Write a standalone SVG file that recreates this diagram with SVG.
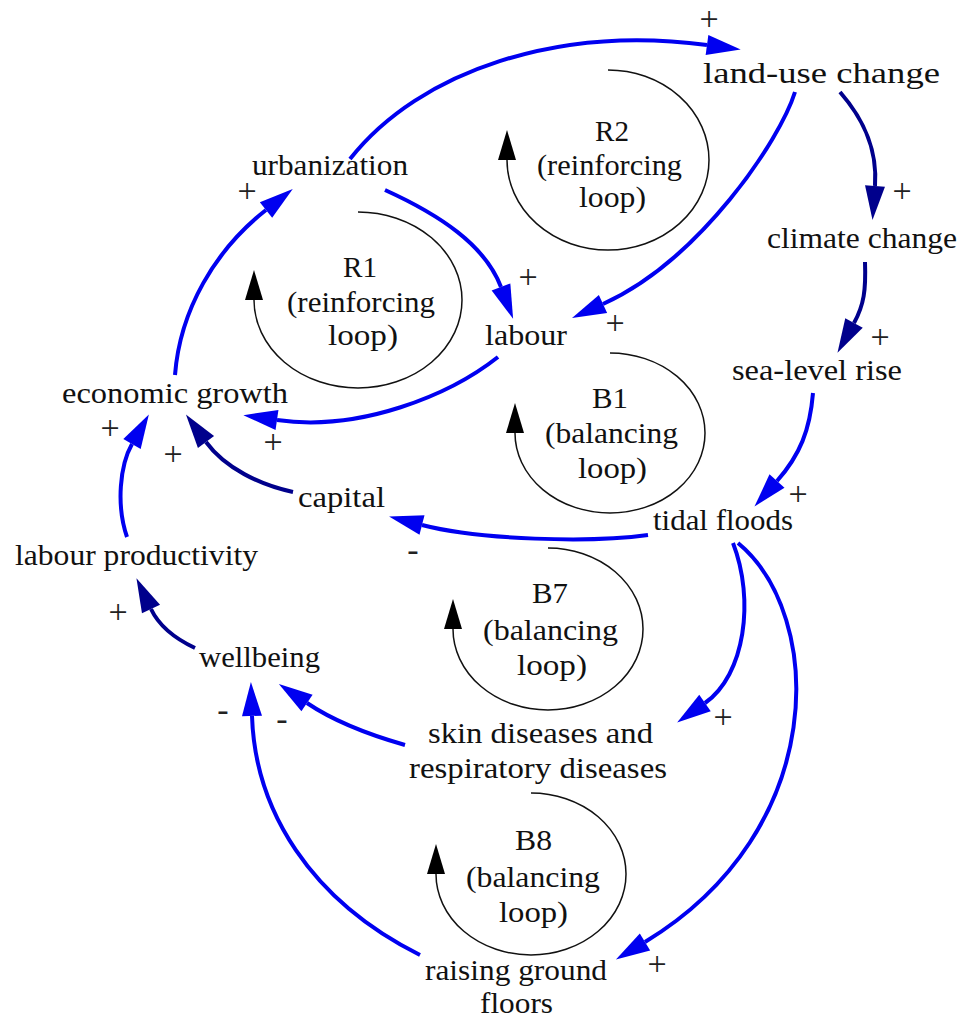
<svg xmlns="http://www.w3.org/2000/svg" width="963" height="1019" viewBox="0 0 963 1019" font-family="Liberation Serif, Times New Roman, serif">
  <style>
    .pos { fill: none; stroke: #0000f0; stroke-width: 4; }
    .navy { fill: none; stroke: #00008c; stroke-width: 4; }
    .ring { fill: none; stroke: #111; stroke-width: 1.5; }
  </style>
  <defs>
    <marker id="head-blue" markerUnits="userSpaceOnUse" orient="auto" refX="0" refY="0" markerWidth="40" markerHeight="30" overflow="visible">
      <path d="M0,-10 L34,0 L0,10 z" fill="#0000f0"/>
    </marker>
    <marker id="head-navy" markerUnits="userSpaceOnUse" orient="auto" refX="0" refY="0" markerWidth="40" markerHeight="30" overflow="visible">
      <path d="M0,-10 L34,0 L0,10 z" fill="#00008c"/>
    </marker>
    <marker id="head-ring" markerUnits="userSpaceOnUse" orient="auto" refX="0" refY="0" markerWidth="40" markerHeight="30" overflow="visible">
      <path d="M0,-9 L30,0 L0,9 z" fill="#000"/>
    </marker>
  </defs>
  <rect width="963" height="1019" fill="#fff"/>

  <!-- causal links -->
  <g id="connectors">
    <path class="pos" d="M350,159 C420,70 560,25 707,45" marker-end="url(#head-blue)"/>
    <path class="pos" d="M385,190 C440,215 485,245 501,287" marker-end="url(#head-blue)"/>
    <path class="pos" d="M795,92 C780,140 700,260 603,304" marker-end="url(#head-blue)"/>
    <path class="navy" d="M840,92 C860,115 878,145 875,186" marker-end="url(#head-navy)"/>
    <path class="navy" d="M865,262 C866,290 864,305 854,323" marker-end="url(#head-navy)"/>
    <path class="pos" d="M813,393 C810,430 800,455 777,481" marker-end="url(#head-blue)"/>
    <path class="pos" d="M648,535 C590,543 480,540 422,525" marker-end="url(#head-blue)"/>
    <path class="navy" d="M293,492 C260,485 225,468 206,442" marker-end="url(#head-navy)"/>
    <path class="pos" d="M127,537 C116,505 120,465 132,444" marker-end="url(#head-blue)"/>
    <path class="pos" d="M498,357 C450,395 360,432 277,420" marker-end="url(#head-blue)"/>
    <path class="pos" d="M175,375 C180,310 215,250 266,210" marker-end="url(#head-blue)"/>
    <path class="navy" d="M195,648 C178,640 160,628 151,609" marker-end="url(#head-navy)"/>
    <path class="pos" d="M405,745 C370,735 335,722 307,703" marker-end="url(#head-blue)"/>
    <path class="pos" d="M420,955 C310,900 255,810 252,716" marker-end="url(#head-blue)"/>
    <path class="pos" d="M733,543 C755,600 745,675 705,703" marker-end="url(#head-blue)"/>
    <path class="pos" d="M738,543 C825,615 830,830 645,942" marker-end="url(#head-blue)"/>
  </g>

  <!-- link polarities -->
  <g id="polarities" font-size="34" fill="#222" text-anchor="middle">
    <text x="709" y="30">+</text>
    <text x="528" y="288">+</text>
    <text x="615" y="334">+</text>
    <text x="902" y="202">+</text>
    <text x="880" y="348">+</text>
    <text x="798" y="505">+</text>
    <text x="413" y="561">-</text>
    <text x="173" y="465">+</text>
    <text x="110" y="439">+</text>
    <text x="273" y="453">+</text>
    <text x="247" y="202">+</text>
    <text x="118" y="623">+</text>
    <text x="282" y="730">-</text>
    <text x="223" y="721">-</text>
    <text x="723" y="728">+</text>
    <text x="657" y="975">+</text>
  </g>

  <!-- variables -->
  <g id="variables" font-size="30" fill="#111" lengthAdjust="spacingAndGlyphs">
    <g id="land-use-change"><text x="703" y="83" textLength="237" lengthAdjust="spacingAndGlyphs">land-use change</text></g>
    <g id="urbanization"><text x="252" y="175" textLength="156" lengthAdjust="spacingAndGlyphs">urbanization</text></g>
    <g id="climate-change"><text x="767" y="248" textLength="190" lengthAdjust="spacingAndGlyphs">climate change</text></g>
    <g id="labour"><text x="485" y="345" textLength="82" lengthAdjust="spacingAndGlyphs">labour</text></g>
    <g id="sea-level-rise"><text x="732" y="380" textLength="170" lengthAdjust="spacingAndGlyphs">sea-level rise</text></g>
    <g id="economic-growth"><text x="62" y="403" textLength="226" lengthAdjust="spacingAndGlyphs">economic growth</text></g>
    <g id="tidal-floods"><text x="653" y="530" textLength="140" lengthAdjust="spacingAndGlyphs">tidal floods</text></g>
    <g id="capital"><text x="298" y="507" textLength="87" lengthAdjust="spacingAndGlyphs">capital</text></g>
    <g id="labour-productivity"><text x="15" y="565" textLength="243" lengthAdjust="spacingAndGlyphs">labour productivity</text></g>
    <g id="wellbeing"><text x="199" y="667" textLength="121" lengthAdjust="spacingAndGlyphs">wellbeing</text></g>
    <g id="diseases">
      <text x="428" y="743" textLength="225" lengthAdjust="spacingAndGlyphs">skin diseases and</text>
      <text x="409" y="778" textLength="258" lengthAdjust="spacingAndGlyphs">respiratory diseases</text>
    </g>
    <g id="raising-ground-floors">
      <text x="425" y="980" textLength="182" lengthAdjust="spacingAndGlyphs">raising ground</text>
      <text x="480" y="1013" textLength="73" lengthAdjust="spacingAndGlyphs">floors</text>
    </g>
  </g>

  <!-- feedback loop markers -->
  <g id="loops" font-size="30" fill="#111">
    <g id="loop-R1">
      <path class="ring" d="M358,212 A104,88 0 1,1 254,300" marker-end="url(#head-ring)"/>
      <text x="343" y="277" textLength="34" lengthAdjust="spacingAndGlyphs">R1</text>
      <text x="287" y="312" textLength="148" lengthAdjust="spacingAndGlyphs">(reinforcing</text>
      <text x="328" y="345" textLength="70" lengthAdjust="spacingAndGlyphs">loop)</text>
    </g>
    <g id="loop-R2">
      <path class="ring" d="M608,70 A101,90 0 1,1 507,160" marker-end="url(#head-ring)"/>
      <text x="595" y="141" textLength="34" lengthAdjust="spacingAndGlyphs">R2</text>
      <text x="537" y="175" textLength="145" lengthAdjust="spacingAndGlyphs">(reinforcing</text>
      <text x="579" y="207" textLength="67" lengthAdjust="spacingAndGlyphs">loop)</text>
    </g>
    <g id="loop-B1">
      <path class="ring" d="M610,353 A95,80 0 1,1 515,433" marker-end="url(#head-ring)"/>
      <text x="592" y="408" textLength="36" lengthAdjust="spacingAndGlyphs">B1</text>
      <text x="545" y="443" textLength="133" lengthAdjust="spacingAndGlyphs">(balancing</text>
      <text x="578" y="478" textLength="69" lengthAdjust="spacingAndGlyphs">loop)</text>
    </g>
    <g id="loop-B7">
      <path class="ring" d="M548,548 A95,81 0 1,1 453,629" marker-end="url(#head-ring)"/>
      <text x="532" y="603" textLength="36" lengthAdjust="spacingAndGlyphs">B7</text>
      <text x="483" y="640" textLength="135" lengthAdjust="spacingAndGlyphs">(balancing</text>
      <text x="517" y="675" textLength="70" lengthAdjust="spacingAndGlyphs">loop)</text>
    </g>
    <g id="loop-B8">
      <path class="ring" d="M531,793 A95,81 0 1,1 436,874" marker-end="url(#head-ring)"/>
      <text x="515" y="850" textLength="37" lengthAdjust="spacingAndGlyphs">B8</text>
      <text x="466" y="887" textLength="134" lengthAdjust="spacingAndGlyphs">(balancing</text>
      <text x="499" y="922" textLength="69" lengthAdjust="spacingAndGlyphs">loop)</text>
    </g>
  </g>
</svg>
